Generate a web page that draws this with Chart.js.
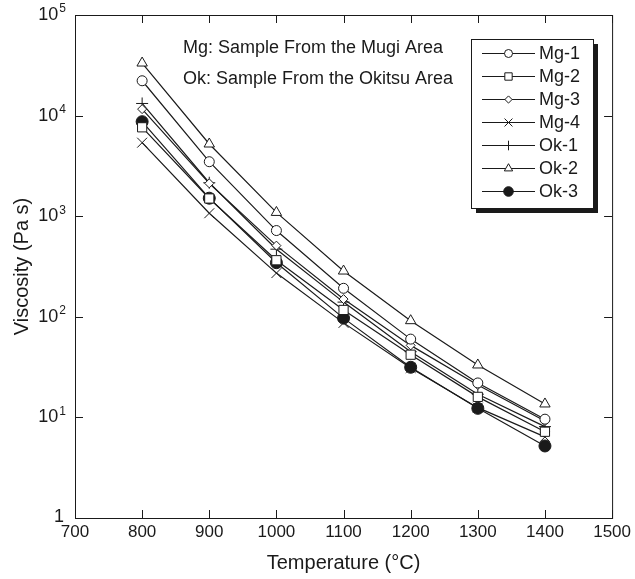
<!DOCTYPE html>
<html>
<head>
<meta charset="utf-8">
<script src="https://cdn.jsdelivr.net/npm/chart.js@4.4.0/dist/chart.umd.min.js"></script>
<style>
  html, body { margin: 0; padding: 0; background: #fff; }
  #wrap { width: 635px; height: 579px; }
</style>
</head>
<body>
<div id="wrap"><canvas id="myChart"></canvas></div>
<script>
// values (viscosity in Pa s)
const temps = [800, 900, 1000, 1100, 1200, 1300, 1400];
const mg1 = [22200, 3480, 720, 192, 60, 22, 9.6];
const mg2 = [7650, 1500, 365, 117, 42, 16, 7.2];
const mg3 = [11600, 2120, 510, 150, 52, 21, 9.2];
const mg4 = [5380, 1070, 272, 87, 31, 12.5, 6.4];
const ok1 = [13200, 2150, 470, 140, 45, 17, 8.1];
const ok2 = [33300, 5220, 1090, 285, 91.5, 33.2, 13.6];
const ok3 = [8700, 1510, 345, 97, 31.5, 12.3, 5.2];
const seriesNames = ['Mg-1', 'Mg-2', 'Mg-3', 'Mg-4', 'Ok-1', 'Ok-2', 'Ok-3'];
const xTicks = [700, 800, 900, 1000, 1100, 1200, 1300, 1400, 1500];
const yTicks = [1, 10, 100, 1000, 10000, 100000];
const notes = ['Mg: Sample From the Mugi Area', 'Ok: Sample From the Okitsu Area'];

const INK = '#1a1a1a';
const FONT = '"Liberation Sans", Arial, Helvetica, sans-serif';

// marker look per series
const markers = [
  {shape: 'circle', r: 5, fill: '#fff'},
  {shape: 'rect', r: 6.5, fill: '#fff'},
  {shape: 'rectRot', r: 4.5, fill: '#fff'},
  {shape: 'crossRot', r: 7, fill: '#fff'},
  {shape: 'cross', r: 6, fill: '#fff'},
  {shape: 'triangle', r: 6, fill: '#fff'},
  {shape: 'circle', r: 6, fill: INK}
];
const allSeries = [mg1, mg2, mg3, mg4, ok1, ok2, ok3];

// same geometry as chart.js point styles, used for the legend samples
function drawMarker(ctx, m, x, y, scale) {
  const r = m.r * scale, h = Math.SQRT1_2 * r;
  ctx.save();
  ctx.strokeStyle = INK;
  ctx.fillStyle = m.fill;
  ctx.lineWidth = 1;
  ctx.beginPath();
  if (m.shape === 'circle') {
    ctx.arc(x, y, r, 0, Math.PI * 2);
    ctx.fill();
  } else if (m.shape === 'rect') {
    ctx.rect(x - h, y - h, 2 * h, 2 * h);
    ctx.fill();
  } else if (m.shape === 'rectRot') {
    ctx.moveTo(x - r, y); ctx.lineTo(x, y - r); ctx.lineTo(x + r, y); ctx.lineTo(x, y + r);
    ctx.closePath();
    ctx.fill();
  } else if (m.shape === 'crossRot') {
    ctx.moveTo(x - h, y - h); ctx.lineTo(x + h, y + h);
    ctx.moveTo(x - h, y + h); ctx.lineTo(x + h, y - h);
  } else if (m.shape === 'cross') {
    ctx.moveTo(x - r, y); ctx.lineTo(x + r, y);
    ctx.moveTo(x, y - r); ctx.lineTo(x, y + r);
  } else if (m.shape === 'triangle') {
    ctx.moveTo(x, y - r);
    ctx.lineTo(x + 0.866 * r, y + 0.5 * r);
    ctx.lineTo(x - 0.866 * r, y + 0.5 * r);
    ctx.closePath();
    ctx.fill();
  }
  ctx.stroke();
  ctx.restore();
}

// frame with inward ticks on all four sides
const framePlugin = {
  id: 'frame',
  beforeDatasetsDraw(chart) {
    const {ctx, chartArea: a, scales} = chart;
    ctx.save();
    ctx.strokeStyle = INK;
    ctx.lineWidth = 1;
    ctx.strokeRect(a.left + 0.5, a.top + 0.5, a.right - a.left, a.bottom - a.top);
    ctx.beginPath();
    xTicks.forEach(v => {
      const px = Math.round(scales.x.getPixelForValue(v)) + 0.5;
      ctx.moveTo(px, a.bottom); ctx.lineTo(px, a.bottom - 8);
      ctx.moveTo(px, a.top); ctx.lineTo(px, a.top + 8);
    });
    yTicks.forEach(v => {
      const py = Math.round(scales.y.getPixelForValue(v)) + 0.5;
      ctx.moveTo(a.left, py); ctx.lineTo(a.left + 8, py);
      ctx.moveTo(a.right, py); ctx.lineTo(a.right - 8, py);
    });
    ctx.stroke();
    ctx.restore();
  },
  afterDraw(chart) {
    const {ctx, chartArea: a, scales} = chart;
    ctx.save();
    ctx.fillStyle = INK;
    ctx.textBaseline = 'middle';
    ctx.textAlign = 'right';
    // y tick labels as powers of ten
    yTicks.forEach(v => {
      const py = scales.y.getPixelForValue(v);
      const exp = Math.round(Math.log10(v));
      if (exp === 0) {
        ctx.font = '18px ' + FONT;
        ctx.fillText('1', 64, py - 1);
      } else {
        ctx.font = '12px ' + FONT;
        const ew = ctx.measureText(String(exp)).width;
        ctx.fillText(String(exp), 66, py - 6);
        ctx.font = '18px ' + FONT;
        ctx.fillText('10', 66 - ew - 1, py);
      }
    });
    // sample notes
    ctx.textAlign = 'left';
    ctx.font = '18px ' + FONT;
    ctx.fillText(notes[0], 183, 48);
    ctx.fillText(notes[1], 183, 79);
    // legend box with drop shadow
    const bx = 471, by = 39, bw = 122, bh = 169;
    ctx.fillStyle = INK;
    ctx.fillRect(bx + 5, by + 5, bw, bh);
    ctx.fillStyle = '#fff';
    ctx.fillRect(bx, by, bw, bh);
    ctx.strokeStyle = INK;
    ctx.lineWidth = 1;
    ctx.strokeRect(bx + 0.5, by + 0.5, bw, bh);
    seriesNames.forEach((name, i) => {
      const ly = 53.5 + i * 23;
      ctx.beginPath();
      ctx.moveTo(482, ly); ctx.lineTo(535, ly);
      ctx.stroke();
      drawMarker(ctx, markers[i], 508.5, ly, 0.8);
      ctx.fillStyle = INK;
      ctx.font = '18px ' + FONT;
      ctx.fillText(name, 539, ly + 1);
    });
    ctx.restore();
  }
};

const datasets = allSeries.map((vals, i) => ({
  label: seriesNames[i],
  data: temps.map((t, j) => ({x: t, y: vals[j]})),
  borderColor: INK,
  borderWidth: 1.2,
  fill: false,
  tension: 0,
  pointStyle: markers[i].shape,
  pointRadius: markers[i].r,
  pointBackgroundColor: markers[i].fill,
  pointBorderColor: INK,
  pointBorderWidth: 1
}));

var ctx = document.getElementById('myChart').getContext('2d');
var chart = new Chart(ctx, {
  type: 'line',
  data: {datasets: datasets},
  plugins: [framePlugin],
  options: {
    responsive: true,
    maintainAspectRatio: false,
    animation: false,
    layout: {padding: {top: 15, right: 20, left: 0, bottom: 0}},
    plugins: {
      legend: {display: false},
      tooltip: {enabled: false}
    },
    scales: {
      x: {
        type: 'linear',
        min: 700,
        max: 1500,
        afterFit: s => { s.height = 61; },
        afterBuildTicks: s => { s.ticks = xTicks.map(v => ({value: v})); },
        ticks: {
          padding: 4,
          color: INK,
          font: {family: FONT, size: 17},
          callback: v => String(v)
        },
        grid: {display: false, drawTicks: false},
        border: {display: false},
        title: {
          display: true,
          text: 'Temperature (°C)',
          color: INK,
          font: {family: FONT, size: 20},
          padding: {top: 0, bottom: 4}
        }
      },
      y: {
        type: 'logarithmic',
        min: 1,
        max: 100000,
        afterFit: s => { s.width = 75; },
        ticks: {display: false},
        grid: {display: false, drawTicks: false},
        border: {display: false},
        title: {
          display: true,
          text: 'Viscosity (Pa s)',
          color: INK,
          font: {family: FONT, size: 20},
          padding: {top: 10, bottom: 0}
        }
      }
    }
  }
});
</script>
</body>
</html>
